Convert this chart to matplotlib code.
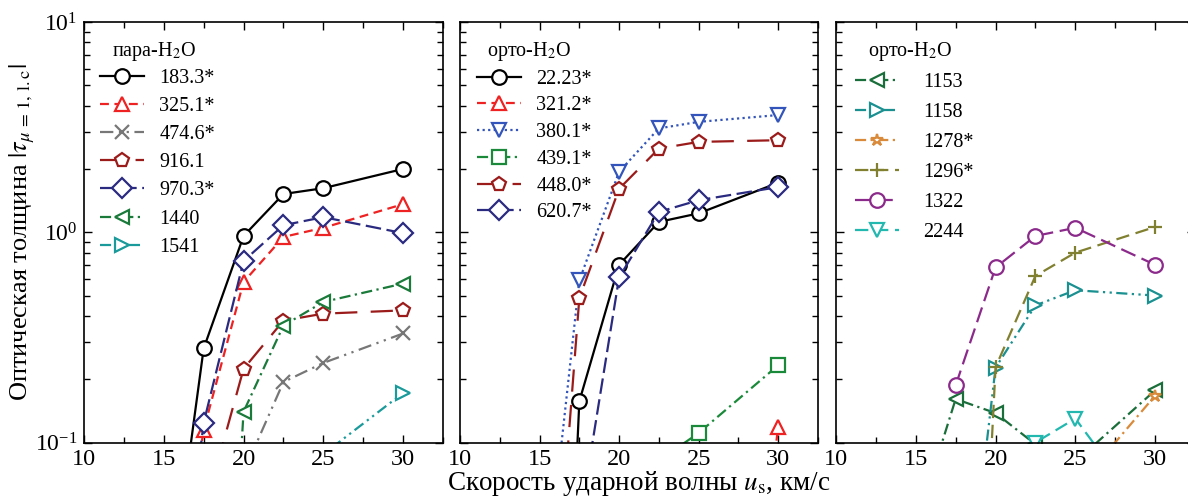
import numpy as np
import matplotlib
matplotlib.use("Agg")
import matplotlib.pyplot as plt
from matplotlib.ticker import MultipleLocator

plt.rcParams['font.family'] = ['Liberation Serif', 'DejaVu Serif']
plt.rcParams['mathtext.fontset'] = 'stix'

# скорость ударной волны, км/с
us = [15, 17.5, 20, 22.5, 25, 30]

# пара-H2O (значения ниже 0.1 - только для хода линий за краем оси)
tau_183 = [0.011, 0.28, 0.96, 1.52, 1.62, 2.0]
tau_325 = [0.0065, 0.115, 0.58, 0.95, 1.05, 1.36]
tau_474 = [1e-4, 0.005, 0.072, 0.194, 0.239, 0.33]
tau_916 = [0.005, 0.046, 0.224, 0.38, 0.41, 0.425]
tau_970 = [0.0036, 0.124, 0.73, 1.08, 1.18, 0.99]
tau_1440 = [1e-5, 1e-4, 0.14, 0.36, 0.466, 0.57]
tau_1541 = [1e-4, 1e-3, 0.01, 0.03, 0.088, 0.172]

# орто-H2O, средняя панель
tau_22 = [1e-5, 0.157, 0.70, 1.12, 1.23, 1.72]
tau_321 = [1e-6, 1e-5, 1e-5, 1e-5, 1e-4, 0.119]
tau_380 = [0.011, 0.59, 1.94, 3.12, 3.35, 3.61]
tau_439 = [1e-4, 1e-3, 0.01, 0.082, 0.111, 0.233]
tau_448 = [0.0017, 0.486, 1.61, 2.5, 2.69, 2.74]
tau_620 = [0.001, 0.041, 0.61, 1.25, 1.42, 1.64]

# орто-H2O, правая панель
tau_1153 = [0.04, 0.161, 0.138, 0.098, 0.081, 0.177]
tau_1158 = [1e-4, 0.0055, 0.227, 0.449, 0.53, 0.50]
tau_1278 = [1e-4, 1e-3, 0.005, 0.02, 0.06, 0.167]
tau_1296 = [1e-5, 4e-5, 0.228, 0.62, 0.80, 1.06]
tau_1322 = [np.nan, 0.187, 0.68, 0.96, 1.05, 0.70]
tau_2244 = [1e-5, 1e-4, 0.01, 0.1, 0.13, 0.04]

dashdot = (0, (5, 2, 1, 2))
dashdotdot = (0, (5, 2, 1, 2, 1, 2))

panel1 = [
    ('183.3*', tau_183, 'black', 'o', '-'),
    ('325.1*', tau_325, '#ee2222', '^', (0, (4, 2.5))),
    ('474.6*', tau_474, '#777777', 'x', (0, (6, 2.5, 1, 2.5, 1, 2.5))),
    ('916.1', tau_916, '#9b1b1b', 'p', (0, (10, 6))),
    ('970.3*', tau_970, '#2a2a80', 'D', (0, (7, 2.5))),
    ('1440', tau_1440, '#1a7a3a', '<', dashdot),
    ('1541', tau_1541, '#1a9a9a', '>', dashdotdot),
]
panel2 = [
    ('22.23*', tau_22, 'black', 'o', '-'),
    ('321.2*', tau_321, '#ee2222', '^', (0, (4, 2.5))),
    ('380.1*', tau_380, '#3355bb', 'v', (0, (1, 1.5))),
    ('439.1*', tau_439, '#1a8a3a', 's', dashdot),
    ('448.0*', tau_448, '#9b1b1b', 'p', (0, (10, 6))),
    ('620.7*', tau_620, '#2a2a80', 'D', (0, (7, 2.5))),
]
panel3 = [
    ('1153', tau_1153, '#1a6e3a', '<', dashdot),
    ('1158', tau_1158, '#1a9090', '>', dashdotdot),
    ('1278*', tau_1278, '#d98a3a', '*', dashdot),
    ('1296*', tau_1296, '#808030', '+', (0, (6, 3))),
    ('1322', tau_1322, '#8b2a8b', 'o', (0, (7, 3))),
    ('2244', tau_2244, '#22b8b0', 'v', (0, (6, 3))),
]

W, H = 1188, 497
fig = plt.figure(figsize=(W / 100, H / 100), dpi=100)
bot = (H - 442.5) / H
hgt = 420.5 / H
ax1 = fig.add_axes([84 / W, bot, 359 / W, hgt])
ax2 = fig.add_axes([460 / W, bot, 358 / W, hgt], sharey=ax1)
ax3 = fig.add_axes([836 / W, bot, 359 / W, hgt], sharey=ax1)

legpos = [
    (ax1, panel1, 'пара-H$_2$O', 0.078, 0.0446, 0.889, 0.75, 0.45),
    (ax2, panel2, 'орто-H$_2$O', 0.0754, 0.0475, 0.887, 0.75, 0.38),
    (ax3, panel3, 'орто-H$_2$O', 0.089, 0.053, 0.880, 1.2, 0.55),
]

for ax, series, title, tx, lx, ly, tpad, lsp in legpos:
    for lab, vals, col, mk, ls in series:
        ms = 9 if mk == '*' else 10.5
        ax.plot(us, vals, color=col, marker=mk, ls=ls, lw=1.6, ms=ms,
                mfc='white', mec=col, mew=1.6, label=lab)
    ax.set_yscale('log')
    ax.set_ylim(0.1, 10)
    ax.set_xlim(10, 32.5)
    ax.xaxis.set_major_locator(MultipleLocator(5))
    ax.xaxis.set_minor_locator(MultipleLocator(2.5))
    ax.tick_params(which='both', direction='in', top=True, right=True,
                   width=1.0)
    ax.tick_params(axis='x', labelsize=17.5)
    ax.tick_params(axis='y', labelsize=17)
    ax.tick_params(which='major', length=6, pad=5)
    ax.tick_params(which='minor', length=4)
    for sp in ax.spines.values():
        sp.set_linewidth(1.2)
    ax.text(tx, 0.931, title, transform=ax.transAxes, fontsize=14.5,
            va='center', ha='left')
    ax.legend(loc='upper left', bbox_to_anchor=(lx, ly), frameon=False,
              fontsize=14.5, handlelength=2.2, handletextpad=tpad,
              labelspacing=lsp, borderpad=0, borderaxespad=0)

ax2.tick_params(labelleft=False)
ax3.tick_params(labelleft=False)

ax1.set_ylabel(r'Оптическая толщина $|\tau_{\mu\,=\,1,\,\mathrm{l.c}}|$',
               fontsize=19)
ax1.yaxis.set_label_coords(-0.13, 0.5)
ax2.set_xlabel(r'Скорость ударной волны $u_\mathrm{s}$, км/с', fontsize=19.5,
               labelpad=-1)

plt.savefig('out.png', dpi=100)
